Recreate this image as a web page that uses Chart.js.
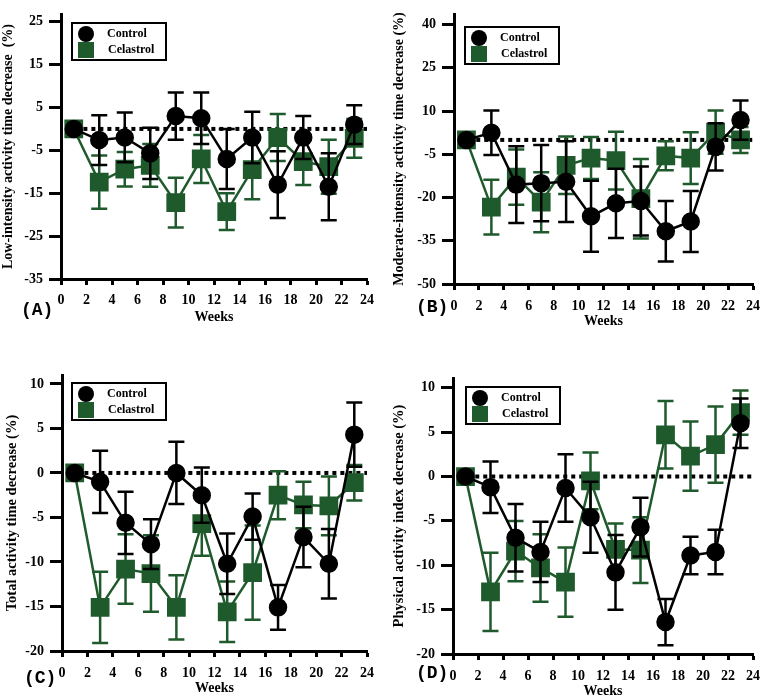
<!DOCTYPE html>
<html>
<head>
<meta charset="utf-8">
<script src="https://cdn.jsdelivr.net/npm/chart.js@4.4.0/dist/chart.umd.min.js"></script>
<style>
  html, body { margin: 0; padding: 0; background: #fff; }
  #wrap { position: relative; width: 767px; height: 700px; overflow: hidden; }
  .panel { position: absolute; }
</style>
</head>
<body>
<div id="wrap">
  <div class="panel" style="left:0;top:0"><canvas id="chartA" width="383" height="330"></canvas></div>
  <div class="panel" style="left:383px;top:0"><canvas id="chartB" width="384" height="330"></canvas></div>
  <div class="panel" style="left:0;top:350px"><canvas id="chartC" width="383" height="350"></canvas></div>
  <div class="panel" style="left:383px;top:350px"><canvas id="chartD" width="384" height="350"></canvas></div>
</div>
<script>
// Semanas medidas y marcas del eje x
const weeks = [1, 3, 5, 7, 9, 11, 13, 15, 17, 19, 21, 23];
const xTicks = [0, 2, 4, 6, 8, 10, 12, 14, 16, 18, 20, 22, 24];

// (A) Low-intensity
const lowControl = [0, -2.6, -2, -5.7, 3, 2.5, -7, -2, -13, -2, -13.5, 1];
const lowControlErr = [0, 5.8, 5.8, 6, 5.5, 6, 7, 6, 7.8, 5, 7.8, 4.5];
const lowCelastrol = [0, -12.4, -9.4, -8.5, -17.2, -7, -19.3, -9.5, -2, -7.6, -8.8, -2.2];
const lowCelastrolErr = [0, 6.2, 4, 5, 5.8, 5.6, 4.3, 6.9, 5.5, 5.5, 6.3, 4.5];
const lowTicks = [-35, -25, -15, -5, 5, 15, 25];

// (B) Moderate-intensity
const modControl = [0, 2.5, -15.5, -15, -14.5, -26.5, -22, -21.2, -31.7, -28.3, -2.4, 6.9];
const modControlErr = [0, 7.7, 13.3, 13.2, 14, 12.3, 12, 12, 10.5, 10.6, 8.2, 6.8];
const modCelastrol = [0, -23.3, -12.9, -21.6, -8.8, -6.3, -7.2, -20.4, -5.5, -6.3, 2.7, 0];
const modCelastrolErr = [0, 9.5, 9.6, 10.4, 10, 7.3, 10, 13.8, 5, 9, 7.5, 4.5];
const modTicks = [-50, -35, -20, -5, 10, 25, 40];

// (C) Total activity time
const totControl = [0, -1, -5.6, -8, 0, -2.5, -10.2, -4.9, -15.1, -7.2, -10.2, 4.3];
const totControlErr = [0, 3.5, 3.5, 2.8, 3.5, 3.1, 3.4, 2.6, 2.5, 3.4, 3.9, 3.6];
const totCelastrol = [0, -15.1, -10.8, -11.3, -15.1, -5.7, -15.6, -11.2, -2.5, -3.6, -3.7, -1.1];
const totCelastrolErr = [0, 4, 3.9, 4.3, 3.6, 3.6, 3.4, 5.3, 2.7, 2.6, 3.3, 2];
const totTicks = [-20, -15, -10, -5, 0, 5, 10];

// (D) Physical activity index
const idxControl = [0, -1.2, -6.9, -8.5, -1.3, -4.6, -10.8, -5.7, -16.4, -8.9, -8.5, 6];
const idxControlErr = [0, 2.9, 3.8, 3.4, 3.8, 4, 4.2, 3.3, 2.6, 2.1, 2.5, 2.8];
const idxCelastrol = [0, -13, -8.4, -10.3, -11.9, -0.5, -8.2, -8.3, 4.7, 2.3, 3.6, 7.2];
const idxCelastrolErr = [0, 4.4, 3.4, 3.8, 3.9, 3.2, 2.9, 3.7, 3.8, 3.9, 4.3, 2.5];
const idxTicks = [-20, -15, -10, -5, 0, 5, 10];

const BLACK = '#000000';
const GREEN = '#1f5a2c';
const SERIF = "'Liberation Serif', 'Times New Roman', serif";

// Línea punteada en cero
const zeroLine = {
    id: 'zeroLine',
    beforeDatasetsDraw(chart) {
        const { ctx, scales: { x, y } } = chart;
        const py = y.getPixelForValue(0);
        ctx.save();
        ctx.setLineDash([4, 4]);
        ctx.lineWidth = 4;
        ctx.strokeStyle = BLACK;
        ctx.beginPath();
        ctx.moveTo(x.getPixelForValue(0.5), py);
        ctx.lineTo(x.getPixelForValue(24), py);
        ctx.stroke();
        ctx.restore();
    }
};

// Barras de error debajo de cada serie
const errorBars = {
    id: 'errorBars',
    beforeDatasetDraw(chart, args) {
        const ds = chart.data.datasets[args.index];
        if (!ds.errors) return;
        const { ctx, scales: { x, y } } = chart;
        ctx.save();
        ctx.strokeStyle = ds.borderColor;
        ctx.lineWidth = 2.5;
        ds.data.forEach((p, i) => {
            const e = ds.errors[i];
            if (!e) return;
            const px = x.getPixelForValue(p.x);
            const top = y.getPixelForValue(p.y + e);
            const bot = y.getPixelForValue(p.y - e);
            ctx.beginPath();
            ctx.moveTo(px, top); ctx.lineTo(px, bot);
            ctx.moveTo(px - 8, top); ctx.lineTo(px + 8, top);
            ctx.moveTo(px - 8, bot); ctx.lineTo(px + 8, bot);
            ctx.stroke();
        });
        ctx.restore();
    }
};

// Leyenda en caja dentro del área
const boxLegend = {
    id: 'boxLegend',
    afterDraw(chart, args, opts) {
        const { ctx, chartArea } = chart;
        const bx = chartArea.left + opts.dx;
        const by = chartArea.top + opts.dy;
        ctx.save();
        ctx.lineWidth = 2;
        ctx.strokeStyle = BLACK;
        ctx.strokeRect(bx, by, 94, 37);
        ctx.fillStyle = BLACK;
        ctx.beginPath();
        ctx.arc(bx + 14, by + 11, 8, 0, Math.PI * 2);
        ctx.fill();
        ctx.fillStyle = GREEN;
        ctx.fillRect(bx + 6, by + 19, 16, 16);
        ctx.fillStyle = BLACK;
        ctx.font = 'bold 12px ' + SERIF;
        ctx.textBaseline = 'middle';
        ctx.fillText('Control', bx + 35, by + 11);
        ctx.fillText('Celastrol', bx + 36, by + 27);
        ctx.restore();
    }
};

// Letra del panel
const panelTag = {
    id: 'panelTag',
    afterDraw(chart, args, opts) {
        const { ctx } = chart;
        ctx.save();
        ctx.fillStyle = BLACK;
        ctx.font = "bold 18px 'Liberation Mono', 'Courier New', monospace";
        ctx.textBaseline = 'middle';
        ctx.fillText(opts.text, opts.x, opts.y);
        ctx.restore();
    }
};

function pts(values) {
    return weeks.map((w, i) => ({ x: w, y: values[i] }));
}

function makeChart(id, p) {
    const ctx = document.getElementById(id).getContext('2d');
    return new Chart(ctx, {
        type: 'line',
        data: {
            datasets: [{
                label: 'Control',
                data: pts(p.control),
                errors: p.controlErr,
                borderColor: BLACK,
                backgroundColor: BLACK,
                pointBackgroundColor: BLACK,
                pointBorderColor: BLACK,
                borderWidth: 2.5,
                pointStyle: 'circle',
                pointRadius: 8,
                tension: 0
            }, {
                label: 'Celastrol',
                data: pts(p.celastrol),
                errors: p.celastrolErr,
                borderColor: GREEN,
                backgroundColor: GREEN,
                pointBackgroundColor: GREEN,
                pointBorderColor: GREEN,
                borderWidth: 2.5,
                pointStyle: 'rect',
                pointRadius: 11.5,
                tension: 0
            }]
        },
        options: {
            responsive: false,
            animation: false,
            events: [],
            layout: { padding: { top: p.top, right: p.right, left: 0, bottom: 0 } },
            plugins: {
                legend: { display: false },
                tooltip: { enabled: false },
                boxLegend: { dx: p.legDx, dy: p.legDy },
                panelTag: { text: p.tag, x: p.tagX, y: p.tagY }
            },
            scales: {
                x: {
                    type: 'linear',
                    min: 0,
                    max: 24,
                    afterBuildTicks: s => { s.ticks = xTicks.map(v => ({ value: v })); },
                    afterFit: s => { s.height = p.xHeight; s.paddingLeft = 0; s.paddingRight = 0; },
                    grid: { drawOnChartArea: false, tickLength: 6, tickWidth: 3, tickColor: BLACK },
                    border: { color: BLACK, width: 3 },
                    ticks: { color: BLACK, padding: p.xPad, maxRotation: 0, autoSkip: false,
                             font: { family: SERIF, size: 14, weight: 'bold' } },
                    title: { display: true, text: 'Weeks', color: BLACK, padding: { top: 0, bottom: p.weeksPad },
                             font: { family: SERIF, size: 14, weight: 'bold' } }
                },
                y: {
                    min: p.yMin,
                    max: p.yMax,
                    afterBuildTicks: s => { s.ticks = p.yTicks.map(v => ({ value: v })); },
                    afterFit: s => { s.width = p.yWidth; s.paddingTop = 0; s.paddingBottom = 0; },
                    grid: { drawOnChartArea: false, tickLength: 12, tickWidth: 3, tickColor: BLACK },
                    border: { color: BLACK, width: 3 },
                    ticks: { color: BLACK, padding: 6,
                             font: { family: SERIF, size: 14, weight: 'bold' } },
                    title: { display: true, text: p.yTitle, color: BLACK, padding: { top: p.titlePad, bottom: 0 },
                             font: { family: SERIF, size: p.titleSize, weight: 'bold' } }
                }
            }
        },
        plugins: [zeroLine, errorBars, boxLegend, panelTag]
    });
}

makeChart('chartA', {
    control: lowControl, controlErr: lowControlErr,
    celastrol: lowCelastrol, celastrolErr: lowCelastrolErr,
    yTicks: lowTicks, yMin: -35, yMax: 26.8,
    yTitle: 'Low-intensity activity time decrease  (%)', titleSize: 14, titlePad: 0,
    top: 3, right: 16, yWidth: 61, xHeight: 51, xPad: 7, weeksPad: 4,
    legDx: 11, legDy: 9, tag: '(A)', tagX: 21, tagY: 310
});

makeChart('chartB', {
    control: modControl, controlErr: modControlErr,
    celastrol: modCelastrol, celastrolErr: modCelastrolErr,
    yTicks: modTicks, yMin: -50, yMax: 43.7,
    yTitle: 'Moderate-intensity activity time decrease (%)', titleSize: 14, titlePad: 8,
    top: 7, right: 11, yWidth: 71, xHeight: 46, xPad: 8, weeksPad: 0,
    legDx: 11, legDy: 13, tag: '(B)', tagX: 33, tagY: 307
});

makeChart('chartC', {
    control: totControl, controlErr: totControlErr,
    celastrol: totCelastrol, celastrolErr: totCelastrolErr,
    yTicks: totTicks, yMin: -20, yMax: 11,
    yTitle: 'Total activity time decrease (%)', titleSize: 14.5, titlePad: 4,
    top: 25, right: 16, yWidth: 62, xHeight: 49, xPad: 8, weeksPad: 3,
    legDx: 10, legDy: 8, tag: '(C)', tagX: 24, tagY: 328
});

makeChart('chartD', {
    control: idxControl, controlErr: idxControlErr,
    celastrol: idxCelastrol, celastrolErr: idxCelastrolErr,
    yTicks: idxTicks, yMin: -20, yMax: 11.1,
    yTitle: 'Physical activity index decrease (%)', titleSize: 14.5, titlePad: 8,
    top: 28, right: 10, yWidth: 70, xHeight: 46, xPad: 8, weeksPad: 0,
    legDx: 13, legDy: 9, tag: '(D)', tagX: 33, tagY: 323
});
</script>
</body>
</html>
